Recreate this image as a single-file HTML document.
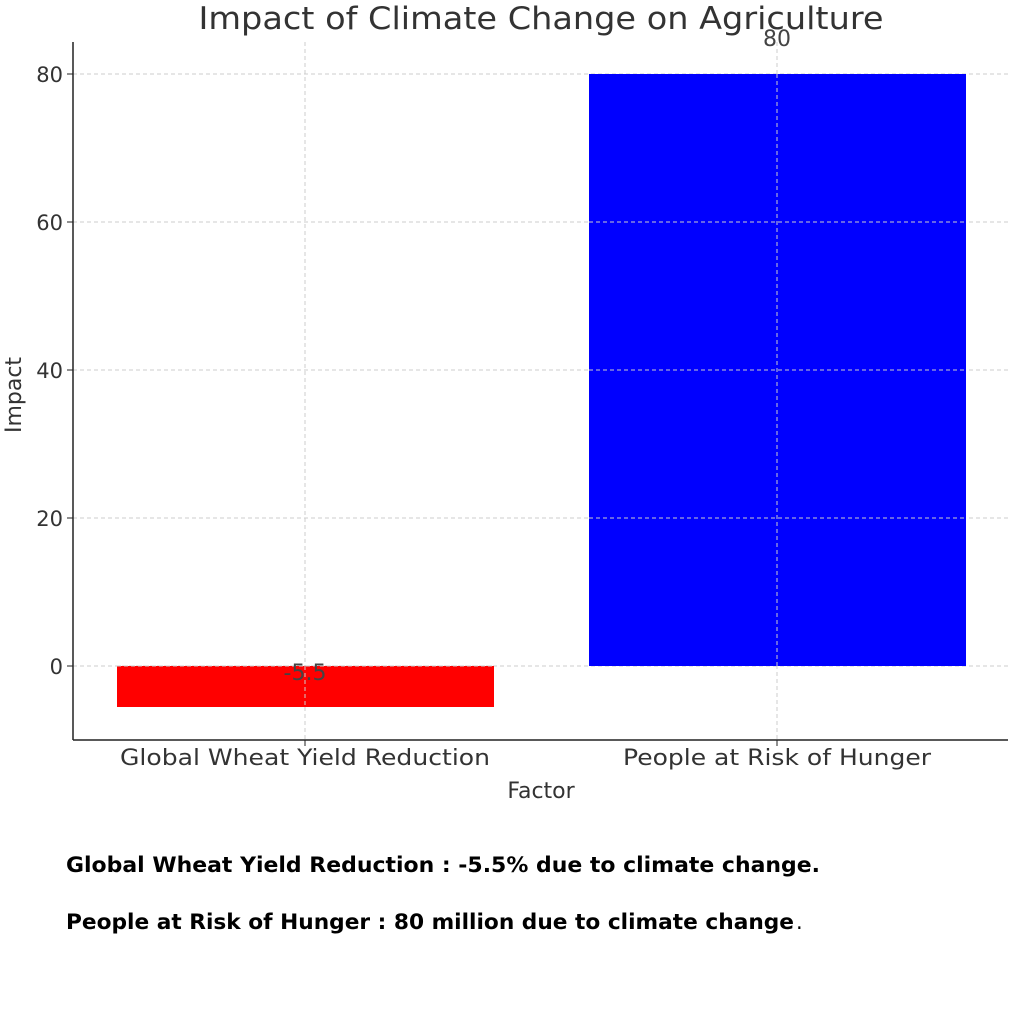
<!DOCTYPE html>
<html><head><meta charset="utf-8"><style>
body{margin:0;background:#fff;width:1024px;height:1024px;overflow:hidden}
</style></head><body>
<svg width="1024" height="1024" style="position:absolute;left:0;top:0" font-family="DejaVu Sans, Liberation Sans, sans-serif">
<g stroke="#ccc" stroke-dasharray="4,3" stroke-width="1">
<line x1="73" x2="1008" y1="74" y2="74"/><line x1="73" x2="1008" y1="222" y2="222"/>
<line x1="73" x2="1008" y1="370" y2="370"/><line x1="73" x2="1008" y1="518" y2="518"/>
<line x1="73" x2="1008" y1="666" y2="666"/>
<line x1="305" x2="305" y1="42" y2="740"/><line x1="777" x2="777" y1="42" y2="740"/>
</g>
<rect x="117" y="666" width="377" height="41" fill="#ff0000"/>
<rect x="589" y="74" width="377" height="592" fill="#0000ff"/>
<g stroke="#ccc" stroke-dasharray="4,3"><line x1="117" x2="494" y1="666" y2="666"/><line x1="305" x2="305" y1="666" y2="707"/><line x1="777" x2="777" y1="74" y2="666"/><line x1="589" x2="966" y1="222" y2="222"/><line x1="589" x2="966" y1="370" y2="370"/><line x1="589" x2="966" y1="518" y2="518"/></g>
<line x1="73" x2="73" y1="42" y2="740" stroke="#222" stroke-width="1.5"/>
<line x1="73" x2="1008" y1="740" y2="740" stroke="#222" stroke-width="1.5"/>
<g stroke="#222"><line x1="67" x2="73" y1="74" y2="74"/><line x1="67" x2="73" y1="222" y2="222"/><line x1="67" x2="73" y1="370" y2="370"/><line x1="67" x2="73" y1="518" y2="518"/><line x1="67" x2="73" y1="666" y2="666"/><line x1="305" x2="305" y1="740" y2="746"/><line x1="777" x2="777" y1="740" y2="746"/></g>
<g font-size="21" fill="#333" text-anchor="end">
<text x="63" y="82">80</text><text x="63" y="230">60</text><text x="63" y="378">40</text><text x="63" y="526">20</text><text x="63" y="674">0</text>
</g>
<g font-size="22" fill="#333" text-anchor="middle">
<text x="305" y="765" textLength="370" lengthAdjust="spacingAndGlyphs">Global Wheat Yield Reduction</text>
<text x="777" y="765" textLength="308" lengthAdjust="spacingAndGlyphs">People at Risk of Hunger</text>
<text x="541" y="798">Factor</text>
<text x="305" y="680" fill="#444">-5.5</text>
<text x="777" y="46" fill="#444">80</text>
<text x="541" y="29" font-size="31" textLength="685" lengthAdjust="spacingAndGlyphs">Impact of Climate Change on Agriculture</text>
<text transform="translate(21,395) rotate(-90)">Impact</text>
</g>
<g font-family="DejaVu Sans, sans-serif" font-weight="bold" font-size="21" fill="#000">
<text x="66" y="872" textLength="754" lengthAdjust="spacingAndGlyphs">Global Wheat Yield Reduction : -5.5% due to climate change.</text>
<text x="66" y="929" textLength="728" lengthAdjust="spacingAndGlyphs">People at Risk of Hunger : 80 million due to climate change</text>
<text x="796" y="929" font-weight="normal">.</text>
</g>
</svg>
</body></html>
